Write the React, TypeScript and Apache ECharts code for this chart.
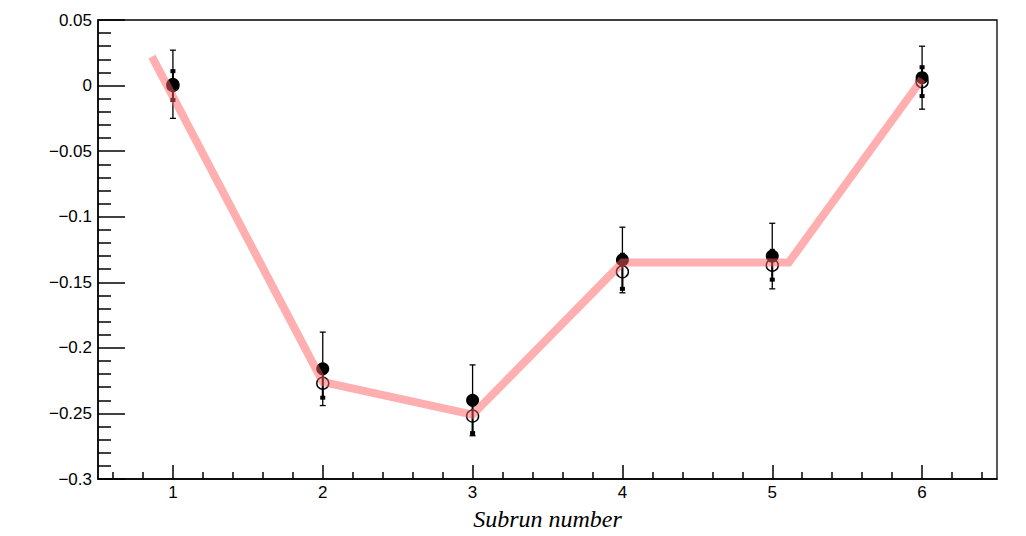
import React, { useEffect, useRef } from "react";
import * as echarts from "echarts";

// Subrun positions
const subruns = [1, 2, 3, 4, 5, 6];

// Filled markers: value and error
const filledY = [0.001, -0.216, -0.24, -0.133, -0.13, 0.006];
const filledErr = [0.026, 0.028, 0.027, 0.025, 0.025, 0.024];

// Open markers: value and error
const openY = [0.0, -0.227, -0.252, -0.142, -0.137, 0.003];
const openErr = [0.011, 0.011, 0.013, 0.013, 0.011, 0.011];

// Model curve vertices
const curveX = [0.86, 2, 3, 4, 5.11, 6];
const curveY = [0.022, -0.226, -0.251, -0.135, -0.135, 0.005];

// Axis ticks
const xMajorTicks = [1, 2, 3, 4, 5, 6];
const xMinorTicks = [
  0.6, 0.8, 1.2, 1.4, 1.6, 1.8, 2.2, 2.4, 2.6, 2.8, 3.2, 3.4, 3.6, 3.8,
  4.2, 4.4, 4.6, 4.8, 5.2, 5.4, 5.6, 5.8, 6.2, 6.4,
];

const fmtY = (v: number) => {
  const s = String(Number(v.toFixed(3)));
  return s.replace("-", "\u2212");
};

const makeErrorBars = (ys: number[], errs: number[], capStyle: "line" | "square") => ({
  type: "custom",
  xAxisIndex: 0,
  yAxisIndex: 0,
  z: 2,
  data: subruns.map((x, i) => [x, ys[i], errs[i]]),
  renderItem: (params: any, api: any) => {
    const x = api.value(0);
    const y = api.value(1);
    const e = api.value(2);
    const top = api.coord([x, y + e]);
    const bot = api.coord([x, y - e]);
    const children: any[] = [
      {
        type: "line",
        shape: { x1: top[0], y1: top[1], x2: bot[0], y2: bot[1] },
        style: { stroke: "#000", lineWidth: capStyle === "line" ? 1.3 : 2 },
      },
    ];
    if (capStyle === "line") {
      [top, bot].forEach((p) =>
        children.push({
          type: "line",
          shape: { x1: p[0] - 3, y1: p[1], x2: p[0] + 3, y2: p[1] },
          style: { stroke: "#000", lineWidth: 1.3 },
        })
      );
    } else {
      [top, bot].forEach((p) =>
        children.push({
          type: "rect",
          shape: { x: p[0] - 2.5, y: p[1] - 2, width: 5, height: 4 },
          style: { fill: "#000" },
        })
      );
    }
    return { type: "group", children };
  },
});

export default function App() {
  const ref = useRef<HTMLDivElement>(null);

  useEffect(() => {
    if (!ref.current) return;
    const chart = echarts.init(ref.current, null, { renderer: "svg" });
    const axisFont = { fontFamily: "Liberation Sans", fontSize: 17, color: "#000" };

    chart.setOption({
      animation: false,
      backgroundColor: "#ffffff",
      grid: {
        left: 98,
        right: 29,
        top: 20,
        bottom: 56,
        show: true,
        borderColor: "#000",
        borderWidth: 1.3,
        backgroundColor: "transparent",
      },
      xAxis: [
        {
          type: "value",
          min: 0.5,
          max: 6.5,
          position: "bottom",
          axisLine: { show: true, onZero: false, lineStyle: { color: "#000", width: 1.5 } },
          axisTick: {
            show: true,
            inside: true,
            length: 14,
            customValues: xMajorTicks,
            lineStyle: { color: "#000", width: 1.5 },
          },
          axisLabel: { ...axisFont, margin: 5, customValues: xMajorTicks },
          splitLine: { show: false },
          name: "Subrun number",
          nameLocation: "middle",
          nameGap: 28,
          nameTextStyle: {
            fontFamily: "Liberation Serif",
            fontStyle: "italic",
            fontSize: 24,
            color: "#000",
          },
        },
        {
          type: "value",
          min: 0.5,
          max: 6.5,
          position: "bottom",
          axisLine: { show: false, onZero: false },
          axisTick: {
            show: true,
            inside: true,
            length: 7,
            customValues: xMinorTicks,
            lineStyle: { color: "#000", width: 1.5 },
          },
          axisLabel: { show: false },
          splitLine: { show: false },
        },
      ],
      yAxis: {
        type: "value",
        min: -0.3,
        max: 0.05,
        interval: 0.05,
        axisLine: { show: true, onZero: false, lineStyle: { color: "#000", width: 1.5 } },
        axisTick: { show: true, inside: true, length: 27, lineStyle: { color: "#000", width: 1.5 } },
        minorTick: {
          show: true,
          splitNumber: 5,
          length: 13,
          lineStyle: { color: "#000", width: 1.5 },
        },
        axisLabel: { ...axisFont, margin: 6, formatter: fmtY },
        splitLine: { show: false },
        minorSplitLine: { show: false },
      },
      series: [
        makeErrorBars(filledY, filledErr, "line"),
        makeErrorBars(openY, openErr, "square"),
        {
          type: "scatter",
          xAxisIndex: 0,
          z: 3,
          symbol: "circle",
          symbolSize: 13,
          itemStyle: { color: "#000", opacity: 1 },
          data: subruns.map((x, i) => [x, filledY[i]]),
        },
        {
          type: "scatter",
          xAxisIndex: 0,
          z: 3,
          symbol: "circle",
          symbolSize: 12,
          itemStyle: { color: "rgba(0,0,0,0)", borderColor: "#000", borderWidth: 1.4, opacity: 1 },
          data: subruns.map((x, i) => [x, openY[i]]),
        },
        {
          type: "line",
          xAxisIndex: 0,
          z: 5,
          symbol: "none",
          silent: true,
          lineStyle: { color: "rgba(255,95,95,0.5)", width: 8, cap: "butt", join: "miter" },
          data: curveX.map((x, i) => [x, curveY[i]]),
        },
      ],
    });

    return () => chart.dispose();
  }, []);

  return (
    <div
      ref={ref}
      style={{ position: "fixed", left: 0, top: 0, width: 1026, height: 536 }}
    />
  );
}
